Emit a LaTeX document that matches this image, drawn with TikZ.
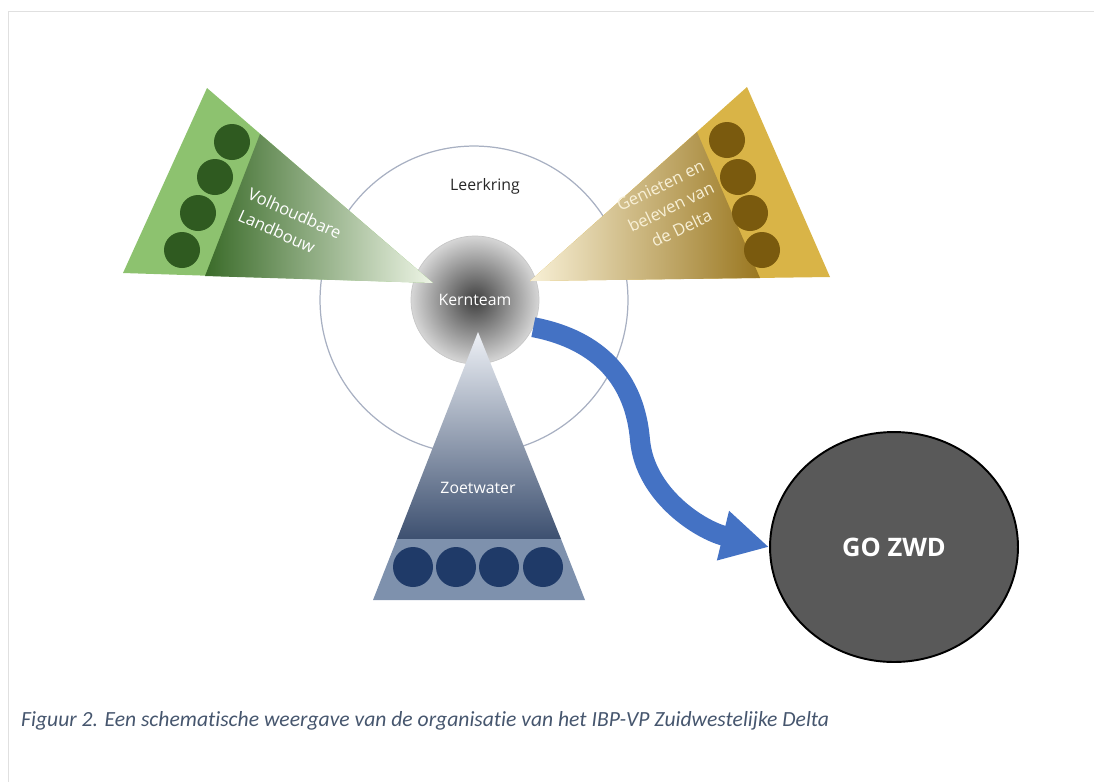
\documentclass[tikz,border=0pt]{standalone}
\usepackage{fontspec}
\setmainfont{Open Sans}
\newfontfamily\capfont[Ligatures=NoCommon]{Carlito}
\usetikzlibrary{shapes.geometric,arrows.meta}
\definecolor{lichtgroen}{HTML}{8DC26F}
\definecolor{donkergroen}{HTML}{3A6B29}
\definecolor{groenwit}{HTML}{EEF5E6}
\definecolor{groenbol}{HTML}{2F5A20}
\definecolor{goud}{HTML}{D9B447}
\definecolor{donkergoud}{HTML}{9A7720}
\definecolor{goudwit}{HTML}{F8F0D6}
\definecolor{goudbol}{HTML}{7A5A0E}
\definecolor{blauwlicht}{HTML}{EEF1F6}
\definecolor{blauwdonker}{HTML}{3D5070}
\definecolor{blauwstrook}{HTML}{7E91AD}
\definecolor{blauwbol}{HTML}{1F3A68}
\definecolor{kringrand}{HTML}{A8B0C2}
\definecolor{pijlblauw}{HTML}{4472C4}
\definecolor{onderschrift}{HTML}{46566E}
\begin{document}
\begin{tikzpicture}[x=0.02cm,y=-0.02cm,
		driehoektekst/.style={text=white,font=\fontsize{9.5}{13.5}\selectfont},
		kleintekst/.style={font=\fontsize{9}{11}\selectfont}]
			\useasboundingbox (0,0) rectangle (1094,782);
			\draw[black!12] (8,782) -- (8,11) -- (1094,11);
			\node[circle,draw=kringrand,line width=0.7pt,minimum size=6.16cm] (leerkring) at (474,300) {};
			\node[kleintekst,text=black!85] (leerkringtekst) at (485,186) {Leerkring};
			\node[circle,draw=black!22,inner color=black!75,outer color=black!16,minimum size=2.56cm,kleintekst,text=white] (kern) at (475,300) {Kernteam};
			\fill[lichtgroen] (207,88) -- (123,273) -- (433,283) -- cycle;
			\shade[left color=donkergroen,middle color=donkergroen!45!lichtgroen,right color=groenwit] (260,134) -- (205,276) -- (433,283) -- cycle;
			\foreach \x/\y in {232/142,215/177,198/213,182/250}
				\fill[groenbol] (\x,\y) circle (18);
			\node[driehoektekst,rotate=-24,align=left] (landbouw) at (290,224) {Volhoudbare\\Landbouw};
			\fill[goud] (747,87) -- (830,277) -- (530,281) -- cycle;
			\shade[left color=goudwit,middle color=donkergoud!55!goud,right color=donkergoud] (697,132) -- (760,278) -- (530,281) -- cycle;
			\foreach \x/\y in {727/140,738/177,750/213,762/250}
				\fill[goudbol] (\x,\y) circle (18);
			\node[driehoektekst,rotate=26,align=center,text=goudwit] (delta) at (671,207) {Genieten en\\beleven van\\de Delta};
			\shade[top color=blauwlicht,bottom color=blauwdonker] (478,332) -- (397,539) -- (561,539) -- cycle;
			\fill[blauwstrook] (397,539) -- (373,600) -- (585,600) -- (561,539) -- cycle;
			\foreach \x in {413,456,499,543}
				\fill[blauwbol] (\x,567) circle (20);
			\node[kleintekst,text=white] (zoetwater) at (478,488) {Zoetwater};
			\node[ellipse,draw=black,line width=1.1pt,fill=black!65,minimum width=4.96cm,minimum height=4.6cm,text=white,font=\fontsize{14.5}{16}\selectfont\bfseries] (gozwd) at (894,547) {GO ZWD};
			\draw[pijlblauw,line width=0.4cm,-{Triangle[length=0.95cm,width=0.95cm]}] (kern.-25) .. controls (600,340) and (635,380) .. (640,440) .. controls (645,495) and (700,530) .. (gozwd.west);
			\node[anchor=west,text=onderschrift,font=\capfont\itshape\fontsize{12.3}{14}\selectfont] (figuur) at (15,721) {Figuur 2. Een schematische weergave van de organisatie van het IBP-VP Zuidwestelijke Delta};
		\end{tikzpicture}
\end{document}
